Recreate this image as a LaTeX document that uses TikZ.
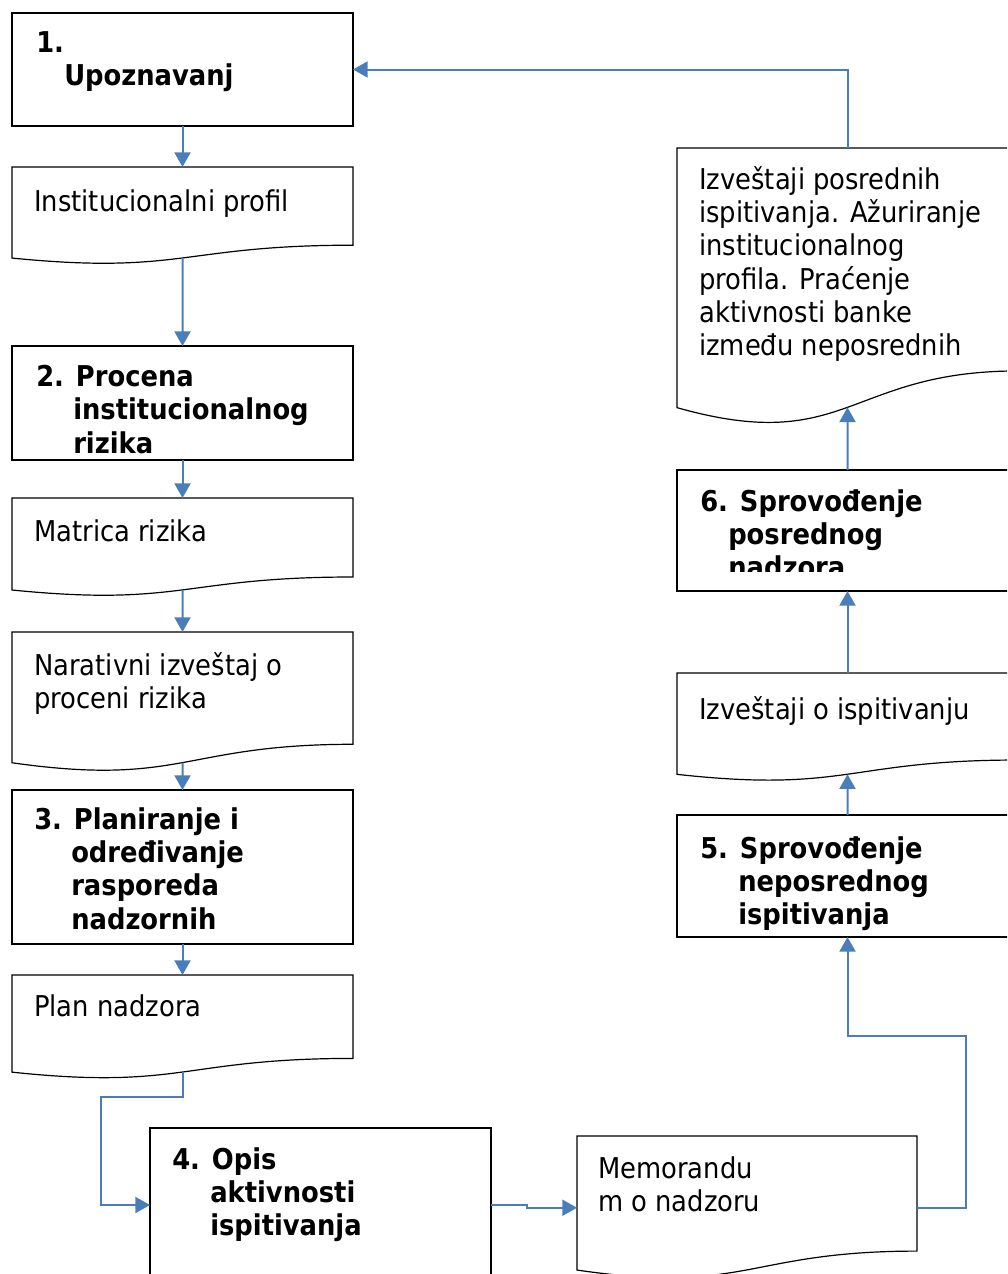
\documentclass[tikz,border=0pt]{standalone}
\usepackage{fontspec}
\setmainfont{DejaVu Sans Condensed}
\usetikzlibrary{arrows.meta,calc}
\definecolor{flowblue}{RGB}{74,126,187}
\begin{document}
\begin{tikzpicture}[x=0.75pt,y=-0.75pt]
        % Styles pour les cases, les documents et les flèches
        \tikzstyle{arrow} = [draw=flowblue,line width=1.5pt,-{Triangle[width=12pt,length=11pt]}]
        \tikzstyle{box} = [draw,line width=0.9pt,rectangle,inner sep=0pt,outer sep=0pt,anchor=north west,minimum width=255.75pt]
        \tikzstyle{doc} = [rectangle,inner sep=0pt,outer sep=0pt,anchor=north west,minimum width=255.75pt]
        \tikzstyle{txt} = [anchor=north west,align=left,inner sep=0pt,font=\fontsize{21.5pt}{25pt}\selectfont]
        \tikzstyle{titre} = [txt,font=\fontsize{21.5pt}{25pt}\selectfont\bfseries]
        \tikzset{haut/.style={minimum height=#1*0.75pt}}

        % Cadre de la page
        \useasboundingbox (0,0) rectangle (1007,1274);
        \clip (0,0) rectangle (1007,1274);

        % Colonne de gauche
        \node[box,haut=113] (b1) at (12,13) {};
        \node[doc,haut=97.5] (d1) at (12,167) {};
        \node[box,haut=114] (b2) at (12,346) {};
        \node[doc,haut=98.5] (d2) at (12,498) {};
        \node[doc,haut=140] (d3) at (12,632) {};
        \node[box,haut=154] (b3) at (12,790) {};
        \node[doc,haut=104] (d4) at (12,975) {};
        \node[box,haut=154] (b4) at (150,1128) {};
        \node[doc,haut=143.5,minimum width=255pt] (d5) at (577,1136) {};

        % Colonne de droite
        \node[box,haut=122] (b5) at (677,815) {};
        \node[doc,haut=108.5] (d6) at (677,673) {};
        \node[box,haut=121] (b6) at (677,470) {};
        \node[doc,haut=278] (d7) at (677,148) {};

        % Contour des documents (bas ondulé)
        \foreach \nom in {d1,d2,d3,d4,d5,d6,d7}{
            \draw[line width=0.9pt] (\nom.north west) -- (\nom.north east)
                -- ($(\nom.north east)!0.802!(\nom.south east)$)
                .. controls ($(\nom.north)!0.802!(\nom.south)$) and ($(\nom.north)!1.107!(\nom.south)$)
                .. ($(\nom.north west)!0.934!(\nom.south west)$) -- cycle;
            \coordinate (\nom-b) at ($(\nom.north)!0.933!(\nom.south)$);
        }

        % Textes
        \node[titre] (t1) at (36,31) {1.\\\hspace*{21pt}Upoznavanj};
        \node[txt] (t2) at (34,189) {Institucionalni profil};
        \node[titre] (t3) at (36,365) {2. Procena\\\hspace*{27.75pt}institucionalnog\\\hspace*{27.75pt}rizika};
        \node[txt] (t4) at (34,519) {Matrica rizika};
        \node[txt] (t5) at (34,652) {Narativni izveštaj o\\proceni rizika};
        \node[titre] (t6) at (34,807) {3. Planiranje i\\\hspace*{27.75pt}određivanje\\\hspace*{27.75pt}rasporeda\\\hspace*{27.75pt}nadzornih};
        \node[txt] (t7) at (34,994) {Plan nadzora};
        \node[titre] (t8) at (172,1147) {4. Opis\\\hspace*{28.5pt}aktivnosti\\\hspace*{28.5pt}ispitivanja};
        \node[txt] (t9) at (598,1156) {Memorandu\\m o nadzoru};
        \node[titre] (t10) at (700,836) {5. Sprovođenje\\\hspace*{28.5pt}neposrednog\\\hspace*{28.5pt}ispitivanja};
        \node[txt] (t11) at (699,696) {Izveštaji o ispitivanju};
        \begin{scope}
            \clip (677,470) rectangle (1007,571);
            \node[titre] (t12) at (700,489) {6. Sprovođenje\\\hspace*{21pt}posrednog\\\hspace*{21pt}nadzora};
        \end{scope}
        \node[txt] (t13) at (699,166) {Izveštaji posrednih\\ispitivanja. Ažuriranje\\institucionalnog\\profila. Praćenje\\aktivnosti banke\\između neposrednih};

        % Flèches entre les étapes
        \draw[arrow] (b1.south) -- (d1.north);
        \draw[arrow] (d1-b) -- (b2.north);
        \draw[arrow] (b2.south) -- (d2.north);
        \draw[arrow] (d2-b) -- (d3.north);
        \draw[arrow] (d3-b) -- (b3.north);
        \draw[arrow] (b3.south) -- (d4.north);
        \coordinate (c1) at (101,1097);
        \draw[arrow] (d4-b) |- (c1) |- (b4.west);
        \draw[arrow] (b4.east) -- ++(36,0) |- (d5.west);
        \coordinate (c2) at (966,1036);
        \draw[arrow] (d5.east) -| (c2) -| (b5.south);
        \draw[arrow] (b5.north) -- (d6-b);
        \draw[arrow] (d6.north) -- (b6.south);
        \draw[arrow] (b6.north) -- (d7-b);
        \draw[arrow] (d7.north) |- (b1.east);

\end{tikzpicture}
\end{document}
